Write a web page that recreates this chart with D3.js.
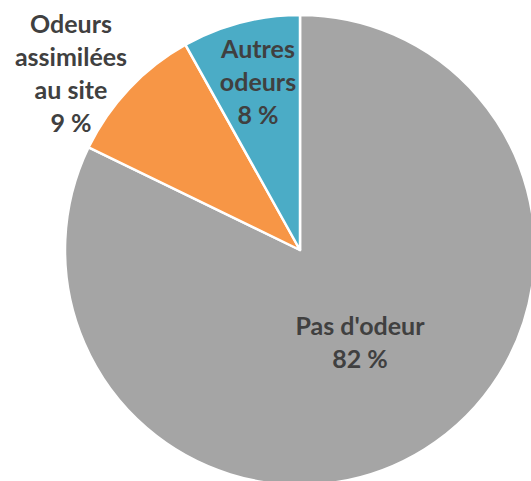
<!DOCTYPE html>
<html>
<head>
<meta charset="utf-8">
<script src="https://cdn.jsdelivr.net/npm/d3@7"></script>
<style>
  body { margin: 0; background: #fff; }
  svg { display: block; }
</style>
</head>
<body>
<div class="chart"></div>
<script>
// donnees
var categories = ["Pas d'odeur", "Odeurs assimilées au site", "Autres odeurs"];
var values = [82.2, 9.7, 8.1];
var labels = ["82 %", "9 %", "8 %"];
var colors = ["#A5A5A5", "#F79646", "#4BACC6"];

var width = 531, height = 481;
var cx = 300, cy = 250, radius = 235;

var svg = d3.select(".chart").append("svg")
    .attr("width", width)
    .attr("height", height);

var g = svg.append("g").attr("transform", "translate(" + cx + "," + cy + ")");

var pie = d3.pie().sort(null).value(function(d) { return d; });
var arc = d3.arc().innerRadius(0).outerRadius(radius);
var arcs = pie(values);

g.selectAll("path.slice")
    .data(arcs)
    .enter().append("path")
    .attr("class", "slice")
    .attr("d", arc)
    .attr("fill", function(d, i) { return colors[i]; })
    .attr("stroke", "#fff")
    .attr("stroke-width", 2.5)
    .attr("stroke-linejoin", "round");

// etiquettes, lignes cassees comme dans l'original
var lines = [
    ["Pas d'odeur", labels[0]],
    ["Odeurs", "assimilées", "au site", labels[1]],
    ["Autres", "odeurs", labels[2]]
];
// premiere ligne de base de chaque bloc
var anchors = [[360, 335], [71, 33], [258, 58]];

var lineH = 33;
svg.selectAll("text.lbl")
    .data(lines)
    .enter().append("text")
    .attr("class", "lbl")
    .attr("text-anchor", "middle")
    .attr("font-family", "Lato, 'Open Sans', sans-serif")
    .attr("font-weight", "bold")
    .attr("font-size", 25)
    .attr("fill", "#404040")
    .each(function(d, i) {
        var t = d3.select(this);
        d.forEach(function(s, k) {
            t.append("tspan")
                .attr("x", anchors[i][0])
                .attr("y", anchors[i][1] + k * lineH)
                .text(s);
        });
    });
</script>
</body>
</html>
